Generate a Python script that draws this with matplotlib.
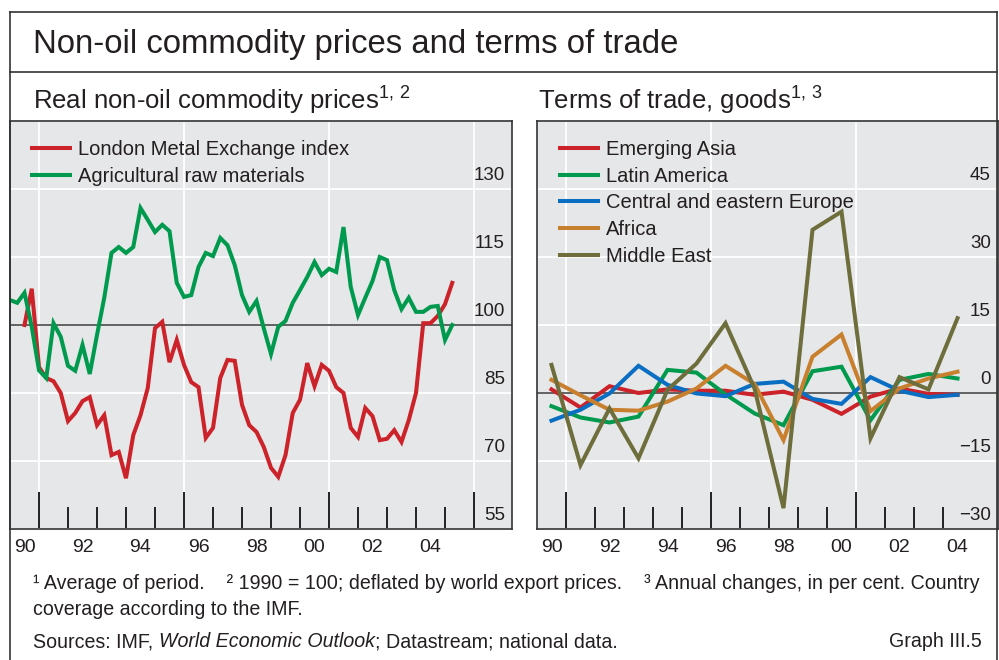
import matplotlib
matplotlib.use("Agg")
import matplotlib.pyplot as plt
import matplotlib.transforms as mtrans
from matplotlib.lines import Line2D
from matplotlib import font_manager
import numpy as np

# ---- data -------------------------------------------------------------
# left panel: quarterly, index 1990 = 100
lme_start = 1990.5
lme = [100, 108, 90.7, 88.3, 87.6, 85, 78.8, 80.6, 83.2, 84.1,
       77.9, 80.1, 71.3, 72, 66.2, 75.7, 80.1, 86.1, 99.3, 100.7,
       91.8, 96.7, 91.2, 87.4, 86.3, 75.1, 77.3, 88.3, 92.3, 92.1,
       82.4, 77.9, 76.4, 73.1, 68.5, 66.5, 71.3, 80.6, 83.5, 91.6,
       86.5, 91.2, 89.9, 86.3, 85, 77.3, 75.3, 81.7, 79.9, 74.6,
       74.9, 76.8, 74.2, 79, 85, 100.4, 100.4, 102, 104.6, 109.3]
agri_start = 1990.0
agri = [105.5, 104.9, 107.1, 99.6, 90, 88.3, 100.4, 97.4, 91, 89.9,
        95.6, 89.2, 97.8, 106, 115.9, 117.2, 115.9, 117.2, 125.8, 123.2,
        120.5, 122.1, 120.7, 109.3, 106.2, 106.6, 112.8, 115.9, 115.2, 119.2,
        117.6, 113.2, 106.6, 102.9, 105.3, 99.3, 93.6, 99.6, 100.9, 104.9,
        107.7, 110.6, 113.9, 111, 112.4, 111.7, 121.6, 108.4, 102.2, 106,
        109.7, 115, 114.3, 107.7, 103.5, 106, 102.9, 102.9, 104, 104.2,
        96.7, 100]

# right panel: annual changes, per cent
years = list(range(1990, 2005))
asia = [0.8, -3.2, 1.5, 0, 0.8, 0.5, 0.5, -0.4, 0.3, -1.5, -4.6, -0.8, 1, -0.2, -0.4]
latam = [-2.9, -5.4, -6.5, -5.2, 5.1, 4.5, -0.3, -4.5, -7.1, 4.8, 5.8, -6, 2.9, 4.2, 3.2]
cee = [-6.1, -3.7, -0.1, 6, 1.8, -0.1, -0.7, 2, 2.5, -1.3, -2.4, 3.5, 0.5, -0.9, -0.4]
africa = [2.9, -0.5, -3.7, -3.9, -1.9, 1, 6, 2, -10.4, 8, 12.9, -4, 1, 3.2, 4.7]
mideast = [6.2, -15.9, -3.4, -14.4, 0.7, 6.5, 15.4, 1, -25.4, 36, 40, -10, 3.5, 0.8, 16.5]

left_ticks = [55, 70, 85, 100, 115, 130]
right_ticks = [-30, -15, 0, 15, 30, 45]
year_labels = ['90', '92', '94', '96', '98', '00', '02', '04']

RED = '#cc2229'
GREEN = '#009a4e'
BLUE = '#0a6fc2'
ORANGE = '#c8802f'
OLIVE = '#6e6d3c'
BG = '#e6e7e8'
DARK = '#333333'

# ---- fonts ------------------------------------------------------------
names = {f.name for f in font_manager.fontManager.ttflist}
main_font = ['Liberation Sans', 'DejaVu Sans']
narrow = 'Liberation Sans Narrow' if 'Liberation Sans Narrow' in names else 'Liberation Sans'
plt.rcParams['font.family'] = main_font
plt.rcParams['mathtext.default'] = 'regular'
plt.rcParams['text.color'] = '#231f20'

W, H = 999, 660
fig = plt.figure(figsize=(W / 100, H / 100), dpi=100)
renderer = fig.canvas.get_renderer()


def fx(px):
    return px / W


def fy(py):
    return 1 - py / H


# frame
for xs, ys in [([10, 997], [12, 12]), ([10, 997], [72, 72]),
               ([10, 10], [12, 660]), ([997, 997], [12, 660])]:
    fig.add_artist(Line2D([fx(x) for x in xs], [fy(y) for y in ys],
                          color=DARK, lw=1.2))


def setup(ax, x_end, ticks, base, minor_end):
    ax.set_facecolor(BG)
    ax.set_xlim(1990, x_end)
    ax.set_ylim(ticks[0], ticks[-1] + 15)
    for s in ax.spines.values():
        s.set_color(DARK)
        s.set_linewidth(1.2)
    ax.set_xticks([y for y in [1991, 1996, 2001, 2006] if y < x_end])
    ax.set_xticks([y for y in range(1992, minor_end + 1) if y % 5 != 1], minor=True)
    ax.set_yticks(ticks + [ticks[-1] + 15])
    ax.tick_params(axis='x', which='major', direction='in', length=26.5,
                   width=1.4, color='#222222', labelbottom=False)
    ax.tick_params(axis='x', which='minor', direction='in', length=16,
                   width=1.4, color='#222222')
    ax.tick_params(axis='y', length=0, labelleft=False)
    ax.set_axisbelow(True)
    ax.xaxis.grid(True, which='major', color='white', lw=1.3)
    ax.yaxis.grid(True, color='white', lw=1.3)
    ax.axhline(base, color='#555555', lw=1.3, zorder=1.5)
    trans = mtrans.offset_copy(ax.get_yaxis_transform(), fig=fig, x=-7, y=9.5, units='dots')
    for v in ticks:
        ax.text(1, v, f'{v}'.replace('-', '\u2212'), transform=trans,
                ha='right', va='baseline', fontsize=13.5)
    ltrans = mtrans.offset_copy(ax.get_xaxis_transform(), fig=fig, x=0, y=-19, units='dots')
    for i, lab in enumerate(year_labels):
        ax.text(1990.5 + 2 * i, 0, lab, transform=ltrans, ha='center',
                va='center', fontsize=14)


leg_kw = dict(loc='upper left', frameon=False, fontsize=14.5, handlelength=1.9,
              handletextpad=0.4, labelspacing=0.38, borderpad=0, borderaxespad=0)

# ---- left panel -------------------------------------------------------
ax1 = fig.add_axes([fx(10), fy(529), (512 - 10) / W, (529 - 121) / H])
setup(ax1, 1990 + 502 / 29, left_ticks, 100, 2006)
x_lme = lme_start + 0.25 * np.arange(len(lme))
x_agri = agri_start + 0.25 * np.arange(len(agri))
ax1.plot(x_lme, lme, color=RED, lw=2.9, label='London Metal Exchange index',
         solid_joinstyle='miter')
ax1.plot(x_agri, agri, color=GREEN, lw=2.9, label='Agricultural raw materials',
         solid_joinstyle='miter')
ax1.legend(bbox_to_anchor=(22 / 502, 1 - 19 / 408), **leg_kw)

# ---- right panel ------------------------------------------------------
ax2 = fig.add_axes([fx(537), fy(529), (998 - 537) / W, (529 - 121) / H])
setup(ax2, 1990 + 461 / 29, right_ticks, 0, 2004)
xr = np.array(years) + 0.5
for vals, col, lab in [(asia, RED, 'Emerging Asia'),
                       (latam, GREEN, 'Latin America'),
                       (cee, BLUE, 'Central and eastern Europe'),
                       (africa, ORANGE, 'Africa'),
                       (mideast, OLIVE, 'Middle East')]:
    ax2.plot(xr, vals, color=col, lw=2.9, label=lab, solid_joinstyle='miter')
ax2.legend(bbox_to_anchor=(23 / 461, 1 - 19 / 408), **leg_kw)

# ---- titles -----------------------------------------------------------
fig.text(fx(33), fy(53), 'Non-oil commodity prices and terms of trade',
         fontsize=23.7, va='baseline')
fig.text(fx(33), fy(110), r'Real non-oil commodity prices$^{1,\,2}$',
         fontsize=18.5, va='baseline')
fig.text(fx(538), fy(110), r'Terms of trade, goods$^{1,\,3}$',
         fontsize=18.5, va='baseline')

# ---- footer -----------------------------------------------------------
line1 = ('\u00b9 Average of period.    \u00b2 1990 = 100; deflated by world export prices.'
         '    \u00b3 Annual changes, in per cent. Country')
t1 = fig.text(fx(33), fy(589), line1, fontsize=13, family=narrow, va='baseline')
fs = 13 * (976 - 33) / t1.get_window_extent(renderer).width
t1.set_fontsize(fs)
fig.text(fx(33), fy(615), 'coverage according to the IMF.',
         fontsize=fs, family=narrow, va='baseline')
fig.text(fx(982), fy(647), 'Graph III.5', fontsize=fs, family=narrow,
         va='baseline', ha='right')

x0 = 33
for txt, style in [('Sources: IMF, ', 'normal'), ('World Economic Outlook', 'italic'),
                   ('; Datastream; national data.', 'normal')]:
    t = fig.text(fx(x0), fy(647), txt, fontsize=fs, family=narrow,
                 style=style, va='baseline')
    x0 += t.get_window_extent(renderer).width

fig.savefig('out.png', dpi=100)
